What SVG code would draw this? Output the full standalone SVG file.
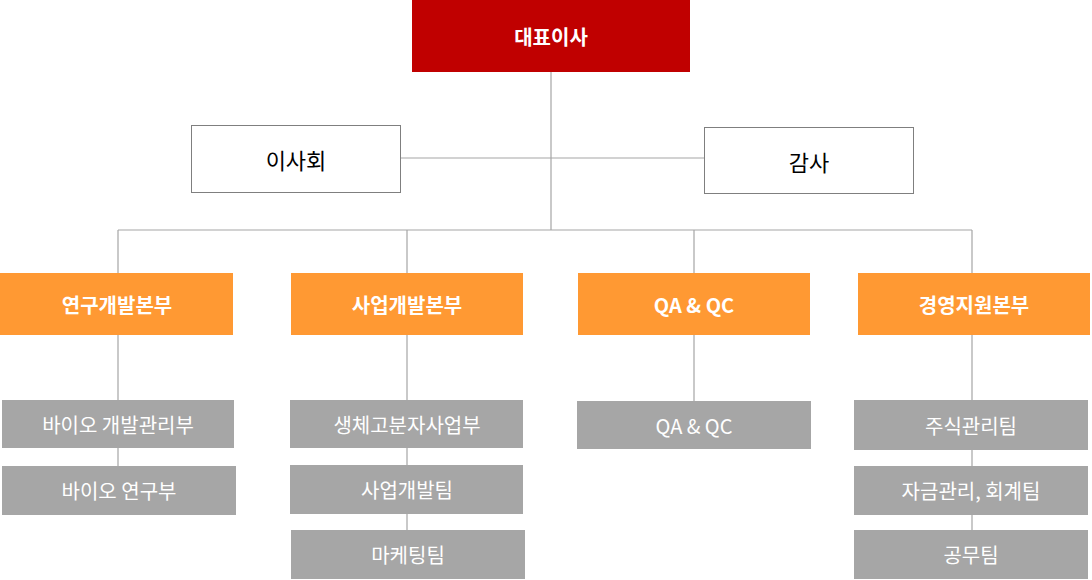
<svg xmlns="http://www.w3.org/2000/svg" width="1092" height="580" viewBox="0 0 1092 580">
<style>
text{font-family:"Noto Sans CJK KR","Noto Sans",sans-serif;text-anchor:middle;dominant-baseline:central}
.top{fill:#C00000}
.wb{fill:#fff;stroke:#7f7f7f;stroke-width:1}
.or{fill:#FF9933}
.gr{fill:#A6A6A6}
.bw{fill:#fff;font-size:20px;font-weight:bold}
.bk{fill:#000;font-size:22px}
.gt{fill:#fff;font-size:20px}
.ln{stroke:#A6A6A6;stroke-width:1.2;fill:none}
</style>
<g id="connectors">
<path class="ln" d="M551 72V230M400 158H704M118 230H972M118 230V273M407 230V273M694 230V273M972 230V273M118 335V466M407 335V530M694 335V401M972 335V530"/>
</g>
<g id="ceo"><rect class="top" x="412" y="0" width="278" height="72"/><text class="bw" x="551" y="36">대표이사</text></g>
<g id="board"><rect class="wb" x="191.5" y="125.5" width="209" height="67"/><text class="bk" x="296" y="159">이사회</text></g>
<g id="audit"><rect class="wb" x="704.5" y="127.5" width="209" height="66"/><text class="bk" x="809" y="161">감사</text></g>
<g id="rnd"><rect class="or" x="0" y="273" width="233" height="62"/><text class="bw" x="117" y="304">연구개발본부</text></g>
<g id="biz"><rect class="or" x="291" y="273" width="232" height="62"/><text class="bw" x="407" y="304">사업개발본부</text></g>
<g id="qa"><rect class="or" x="578" y="273" width="232" height="62"/><text class="bw" x="694" y="304">QA &amp; QC</text></g>
<g id="mgmt"><rect class="or" x="858" y="273" width="232" height="62"/><text class="bw" x="974" y="304">경영지원본부</text></g>
<g id="r1"><rect class="gr" x="2" y="400" width="232" height="48"/><text class="gt" x="118" y="424">바이오 개발관리부</text></g>
<g id="r2"><rect class="gr" x="2" y="466" width="234" height="49"/><text class="gt" x="119" y="490">바이오 연구부</text></g>
<g id="b1"><rect class="gr" x="290" y="400" width="233" height="48"/><text class="gt" x="407" y="424">생체고분자사업부</text></g>
<g id="b2"><rect class="gr" x="290" y="465" width="233" height="49"/><text class="gt" x="407" y="489">사업개발팀</text></g>
<g id="b3"><rect class="gr" x="291" y="530" width="234" height="49"/><text class="gt" x="408" y="554">마케팅팀</text></g>
<g id="q1"><rect class="gr" x="577" y="401" width="234" height="48"/><text class="gt" x="694" y="425">QA &amp; QC</text></g>
<g id="m1"><rect class="gr" x="854" y="400" width="234" height="50"/><text class="gt" x="971" y="425">주식관리팀</text></g>
<g id="m2"><rect class="gr" x="854" y="466" width="234" height="49"/><text class="gt" x="971" y="490">자금관리, 회계팀</text></g>
<g id="m3"><rect class="gr" x="854" y="530" width="234" height="49"/><text class="gt" x="971" y="554">공무팀</text></g>
</svg>
